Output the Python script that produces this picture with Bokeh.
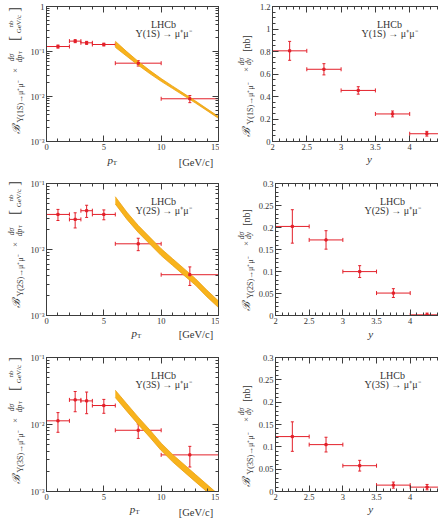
import numpy as np
from bokeh.plotting import figure
from bokeh.layouts import column, row
from bokeh.core.properties import value
from bokeh.models import (ColumnDataSource, Whisker, TeeHead, Label, LinearAxis, LogAxis,
                          SingleIntervalTicker, FixedTicker, CustomJSTickFormatter, Range1d)
from bokeh.embed import file_html
from bokeh.resources import INLINE

SERIF = "Liberation Serif"
RED = "#e3202a"
BAND_FILL = "#f8b31c"
BAND_LINE = "#eaa012"
AXIS = "#3c3c3c"
TXT = "#333333"

# ---- transverse-momentum bins [GeV/c] ----
pt_lo = [0, 2, 3, 4, 6, 10]
pt_hi = [2, 3, 4, 6, 10, 15]
pt_mid = [1, 2.5, 3.5, 5, 8, 12.5]

# B x dsigma/dpT  [nb/(GeV/c)]
ups1s_pt = [0.129, 0.170, 0.156, 0.143, 0.055, 0.0089]
ups1s_pt_err = [0.010, 0.013, 0.012, 0.010, 0.0075, 0.0016]
ups2s_pt = [0.034, 0.0286, 0.0387, 0.034, 0.0122, 0.00415]
ups2s_pt_err = [0.0065, 0.0074, 0.0081, 0.0058, 0.0026, 0.0013]
ups3s_pt = [0.01135, 0.0233, 0.0225, 0.0192, 0.0082, 0.00352]
ups3s_pt_err = [0.0037, 0.0078, 0.0080, 0.0045, 0.0020, 0.0012]

# ---- rapidity bins ----
y_lo = [2.0, 2.5, 3.0, 3.5, 4.0]
y_hi = [2.5, 3.0, 3.5, 4.0, 4.5]
y_mid = [2.25, 2.75, 3.25, 3.75, 4.25]

# B x dsigma/dy  [nb]
ups1s_y = [0.806, 0.642, 0.454, 0.245, 0.069]
ups1s_y_err = [0.084, 0.050, 0.033, 0.026, 0.021]
ups2s_y = [0.2025, 0.1718, 0.0998, 0.051, 0.0015]
ups2s_y_err = [0.038, 0.021, 0.0135, 0.010, 0.004]
ups3s_y = [0.123, 0.105, 0.0578, 0.0143, 0.0098]
ups3s_y_err = [0.033, 0.0165, 0.012, 0.0068, 0.006]

# ---- theory prediction band vs pT ----
band_pt = [6, 7, 8, 9, 10, 11, 12, 13, 14, 15]
ups1s_band_lo = [0.124, 0.0783, 0.0497, 0.0323, 0.0217, 0.0150, 0.01035, 0.00714, 0.00484, 0.00327]
ups1s_band_hi = [0.169, 0.0995, 0.0603, 0.0381, 0.0250, 0.0170, 0.01161, 0.00794, 0.00533, 0.00359]
ups2s_band_lo = [0.0489, 0.0288, 0.01816, 0.01213, 0.00809, 0.00573, 0.00405, 0.00287, 0.00191, 0.00132]
ups2s_band_hi = [0.0631, 0.0369, 0.0232, 0.01542, 0.01028, 0.00724, 0.00512, 0.00361, 0.00241, 0.00166]
ups3s_band_lo = [0.0253, 0.0158, 0.0100, 0.00647, 0.00409, 0.00277, 0.00196, 0.00139, 0.00099, 0.00070]
ups3s_band_hi = [0.0325, 0.0204, 0.01288, 0.00834, 0.00527, 0.00357, 0.00253, 0.00179, 0.00127, 0.00090]

states = ["1S", "2S", "3S"]

LOG_FMT = """
const e = Math.round(Math.log10(tick));
if (e === 0) { return "1"; }
const sup = {"-": "\\u207b", "0": "\\u2070", "1": "\\u00b9", "2": "\\u00b2", "3": "\\u00b3",
             "4": "\\u2074", "5": "\\u2075", "6": "\\u2076", "7": "\\u2077", "8": "\\u2078", "9": "\\u2079"};
let s = "10";
for (const c of String(e)) { s += sup[c]; }
return s;
"""
NUM_FMT = "return String(Math.round(tick * 1000) / 1000);"
BLANK_FMT = "return '';"


def log_ticker(lo_exp, hi_exp):
    majors = [10.0 ** e for e in range(lo_exp, hi_exp + 1)]
    minors = [m * 10.0 ** e for e in range(lo_exp, hi_exp) for m in range(2, 10)]
    return FixedTicker(ticks=majors, minor_ticks=minors)


def style_axis(ax, code, show_labels=True):
    ax.formatter = CustomJSTickFormatter(code=code if show_labels else BLANK_FMT)
    ax.major_tick_in = 6
    ax.major_tick_out = 0
    ax.minor_tick_in = 3
    ax.minor_tick_out = 0
    ax.axis_line_color = AXIS
    ax.major_tick_line_color = AXIS
    ax.minor_tick_line_color = AXIS
    ax.major_label_text_font = SERIF
    ax.major_label_text_color = TXT
    ax.major_label_text_font_size = "8.5px" if show_labels else "1px"
    ax.major_label_standoff = 2 if show_labels else 0


def add_tag(p, st, frame_h):
    for txt, dy in (("LHCb", 17.5), (f"\u03a5({st}) \u2192 \u03bc\u207a\u03bc\u207b", 27)):
        p.add_layout(Label(x=117, y=frame_h - dy, x_units="screen", y_units="screen", text=txt,
                           text_font=SERIF, text_font_size="10px", text_color=TXT,
                           text_align="center", text_baseline="middle"))


def strip(w, h):
    f = figure(width=w, height=h, x_range=Range1d(0, w), y_range=Range1d(0, h),
               output_backend="svg", toolbar_location=None, min_border=0,
               x_axis_location=None, y_axis_location=None)
    f.grid.visible = False
    f.outline_line_color = None
    f.background_fill_color = "white"
    f.border_fill_color = "white"
    return f


def put(f, text, x, y, size, angle=0.0, align="left", style="normal"):
    f.text(x=[x], y=[y], text=[text], angle=angle, text_font=value(SERIF),
           text_font_size=value(f"{size}px"), text_font_style=style, text_color=TXT,
           text_align=align, text_baseline="middle")


def draw_points(p, mid, lo, hi, val, err):
    src = ColumnDataSource(dict(
        x=mid, xlo=lo, xhi=hi, y=val,
        ylo=[v - e for v, e in zip(val, err)],
        yhi=[v + e for v, e in zip(val, err)]))
    p.add_layout(Whisker(source=src, base="y", lower="xlo", upper="xhi", dimension="width",
                         line_color=RED, line_width=1,
                         lower_head=TeeHead(size=4, line_color=RED, line_width=1),
                         upper_head=TeeHead(size=4, line_color=RED, line_width=1)))
    p.add_layout(Whisker(source=src, base="x", lower="ylo", upper="yhi", dimension="height",
                         line_color=RED, line_width=1,
                         lower_head=TeeHead(size=3, line_color=RED, line_width=1),
                         upper_head=TeeHead(size=3, line_color=RED, line_width=1)))
    p.scatter("x", "y", source=src, marker="square", size=2.2, color=RED)


# per row: (row height, top border, frame height)
row_geom = [(172, 6, 135), (172, 11, 132), (174, 13, 134)]
TICK_BORDER = 12
# x-title placement inside the strip under each plot:
# (pT left x, pT y, [GeV/c] y, y-title y)
xt_pos = [(68, 12.4, 10.0, 13.3), (95, 11.5, 9.7, 10.7), (93, 9.3, 6.3, 9.7)]

pt_vals = [ups1s_pt, ups2s_pt, ups3s_pt]
pt_errs = [ups1s_pt_err, ups2s_pt_err, ups3s_pt_err]
bands = [(ups1s_band_lo, ups1s_band_hi), (ups2s_band_lo, ups2s_band_hi), (ups3s_band_lo, ups3s_band_hi)]
y_vals = [ups1s_y, ups2s_y, ups3s_y]
y_errs = [ups1s_y_err, ups2s_y_err, ups3s_y_err]
pt_exps = [(-3, 0), (-3, -1), (-3, -1)]
y_ylims = [(0, 1.2001), (0, 0.3001), (0, 0.3001)]
y_major = [0.2, 0.05, 0.05]
y_minor = [4, 5, 5]

A = float(np.pi / 2)
rows = []
for i, st in enumerate(states):
    H, top, fh = row_geom[i]
    ph = top + fh + TICK_BORDER
    sh = H - ph
    fb = H - top - fh  # frame bottom measured from the row bottom
    pt_x, pt_y, gev_y, yy = xt_pos[i]

    # ---------- pT spectrum (log scale) ----------
    lo_e, hi_e = pt_exps[i]
    p = figure(width=192, height=ph, x_range=Range1d(0, 15),
               y_range=Range1d(10.0 ** lo_e, 10.0 ** hi_e),
               y_axis_type="log", output_backend="svg", toolbar_location=None,
               min_border_left=19, min_border_right=1, min_border_top=top,
               min_border_bottom=TICK_BORDER)
    p.grid.visible = False
    p.outline_line_color = AXIS
    p.background_fill_color = "white"
    p.border_fill_color = "white"
    p.xaxis.ticker = SingleIntervalTicker(interval=5, num_minor_ticks=5)
    p.yaxis.ticker = log_ticker(lo_e, hi_e)
    style_axis(p.xaxis[0], NUM_FMT)
    style_axis(p.yaxis[0], LOG_FMT)
    ax_top = LinearAxis(ticker=SingleIntervalTicker(interval=5, num_minor_ticks=5))
    style_axis(ax_top, NUM_FMT, show_labels=False)
    p.add_layout(ax_top, "above")
    ax_right = LogAxis(ticker=log_ticker(lo_e, hi_e))
    style_axis(ax_right, LOG_FMT, show_labels=False)
    p.add_layout(ax_right, "right")

    lo, hi = bands[i]
    p.varea(x=band_pt, y1=lo, y2=hi, fill_color=BAND_FILL)
    p.line(band_pt, lo, line_color=BAND_LINE, line_width=0.8)
    p.line(band_pt, hi, line_color=BAND_LINE, line_width=0.8)
    draw_points(p, pt_mid, pt_lo, pt_hi, pt_vals[i], pt_errs[i])
    add_tag(p, st, fh)

    # x title under the pT plot
    xs1 = strip(192, sh)
    put(xs1, "p", pt_x, pt_y, 11, style="italic")
    put(xs1, "T", pt_x + 6, pt_y - 2.5, 7)
    put(xs1, "[GeV/c]", 186, gev_y, 10.5, align="right")

    # y title left of the pT plot
    ys1 = strip(27, H)
    put(ys1, "\u212c", 15, fb + 8, 11, angle=A, style="italic")
    put(ys1, f"\u03a5({st})\u2192\u03bc\u207a\u03bc\u207b", 19.5, fb + 19, 8, angle=A)
    put(ys1, "\u00d7", 14, fb + 71, 9, angle=A, align="center")
    put(ys1, "d\u03c3", 10.5, fb + 84, 7.5, angle=A, align="center", style="italic")
    put(ys1, "dp", 18.5, fb + 83, 7.5, angle=A, align="center", style="italic")
    put(ys1, "T", 20, fb + 89, 5, angle=A, align="center")
    put(ys1, "[", 14, fb + 103, 14, angle=A, align="center")
    put(ys1, "nb", 10, fb + 117.5, 7, angle=A, align="center")
    put(ys1, "GeV/c", 18, fb + 117.5, 7, angle=A, align="center")
    put(ys1, "]", 14, fb + 132, 14, angle=A, align="center")

    # ---------- rapidity spectrum (linear) ----------
    q = figure(width=183, height=ph, x_range=Range1d(2, 4.42), y_range=Range1d(*y_ylims[i]),
               output_backend="svg", toolbar_location=None,
               min_border_left=17, min_border_right=0, min_border_top=top,
               min_border_bottom=TICK_BORDER)
    q.grid.visible = False
    q.outline_line_color = None
    q.background_fill_color = "white"
    q.border_fill_color = "white"
    q.xaxis.ticker = SingleIntervalTicker(interval=0.5, num_minor_ticks=5)
    q.yaxis.ticker = SingleIntervalTicker(interval=y_major[i], num_minor_ticks=y_minor[i])
    style_axis(q.xaxis[0], NUM_FMT)
    style_axis(q.yaxis[0], NUM_FMT)
    q_top = LinearAxis(ticker=SingleIntervalTicker(interval=0.5, num_minor_ticks=5))
    style_axis(q_top, NUM_FMT, show_labels=False)
    q.add_layout(q_top, "above")

    draw_points(q, y_mid, y_lo, y_hi, y_vals[i], y_errs[i])
    add_tag(q, st, fh)

    xs2 = strip(183, sh)
    put(xs2, "y", 107, yy, 11, align="center", style="italic")

    ys2 = strip(36, H)
    put(ys2, "\u212c", 26, fb + 5, 11, angle=A, style="italic")
    put(ys2, f"\u03a5({st})\u2192\u03bc\u207a\u03bc\u207b", 30.5, fb + 17, 8, angle=A)
    put(ys2, "\u00d7", 26, fb + 72, 9, angle=A, align="center")
    put(ys2, "d\u03c3", 22, fb + 80, 7.5, angle=A, align="center", style="italic")
    put(ys2, "dy", 29, fb + 80, 7.5, angle=A, align="center", style="italic")
    put(ys2, "[nb]", 26.5, fb + 98, 10, angle=A, align="center")

    rows.append(row(ys1, column(p, xs1), ys2, column(q, xs2)))

layout = column(*rows)
open("out.html", "w").write(file_html(layout, INLINE))
